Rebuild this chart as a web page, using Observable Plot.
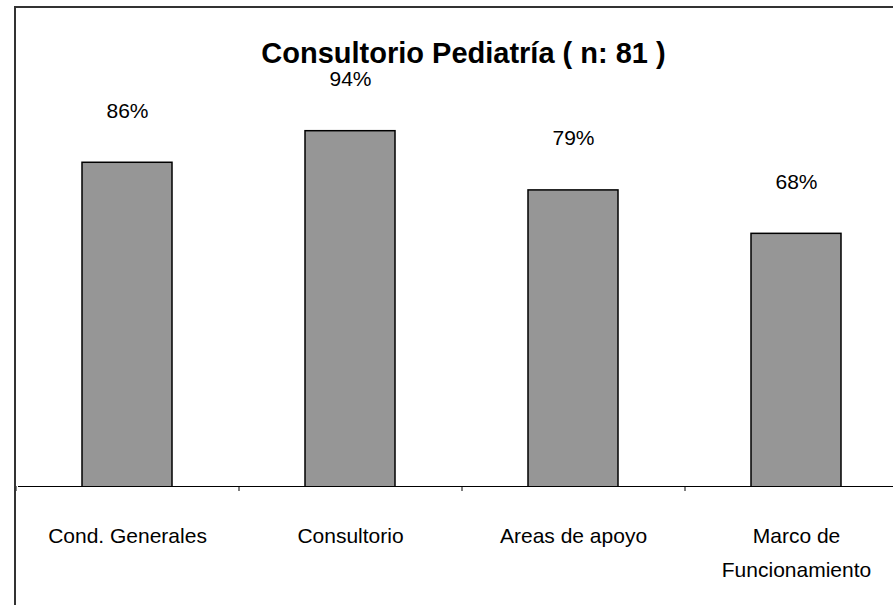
<!DOCTYPE html>
<html>
<head>
<meta charset="utf-8">
<script src="https://cdn.jsdelivr.net/npm/d3@7"></script>
<script src="https://cdn.jsdelivr.net/npm/@observablehq/plot@0.6"></script>
<style>
  html, body { margin: 0; padding: 0; background: #fff; overflow: hidden; }
  #wrap { position: relative; width: 893px; height: 605px; overflow: hidden; }
  #border { position: absolute; left: 14px; top: 6px; width: 1000px; height: 1000px;
            border-left: 2px solid #333; border-top: 2px solid #333; pointer-events: none; }
  svg { font-family: "Liberation Sans", Arial, sans-serif; }
</style>
</head>
<body>
<div id="wrap"><div id="chart"></div><div id="border"></div></div>
<script>
const title = "Consultorio Pediatría ( n: 81 )";
const categories = ["Cond. Generales", "Consultorio", "Areas de apoyo", "Marco de Funcionamiento"];
const tickLabels = ["Cond. Generales", "Consultorio", "Areas de apoyo", "Marco de\nFuncionamiento"];
const values = [86, 94, 79, 68];
const valueLabels = ["86%", "94%", "79%", "68%"];
const yDomain = [4, 100];

const data = categories.map((c, i) => ({cat: c, tick: tickLabels[i], value: values[i], label: valueLabels[i]}));

const xRange = [15.5, 907.5];
const step = (xRange[1] - xRange[0]) / categories.length;

const chart = Plot.plot({
  width: 893,
  height: 605,
  marginTop: 0,
  marginLeft: 18,
  marginRight: 0,
  marginBottom: 119,
  style: {fontFamily: "'Liberation Sans', Arial, sans-serif", background: "white"},
  x: {domain: categories, range: xRange, paddingInner: 0.596, paddingOuter: 0.298, axis: null},
  y: {domain: yDomain, range: [486, 107], axis: null},
  marks: [
    Plot.barY(data, {x: "cat", y: "value", fill: "#969696", stroke: "black", strokeWidth: 1.5, clip: "frame"}),
    Plot.frame({anchor: "bottom", stroke: "black", strokeWidth: 1}),
    Plot.axisX({tickSize: 5, tickFormat: () => "", label: null, dx: -step / 2, stroke: "black", strokeWidth: 1}),
    Plot.text(data, {x: "cat", y: "value", text: "label", dy: -52, fontSize: 21, fill: "black", lineAnchor: "middle"}),
    Plot.text(data, {x: "cat", frameAnchor: "bottom", text: "tick", dy: 33, fontSize: 21, fill: "black", lineAnchor: "top", lineHeight: 1.6}),
    Plot.text([title], {frameAnchor: "top", text: d => d, dx: 7.5, dy: 53, fontSize: 29, fontWeight: "bold", fill: "black", lineAnchor: "middle"})
  ]
});
document.getElementById("chart").appendChild(chart);
</script>
</body>
</html>
